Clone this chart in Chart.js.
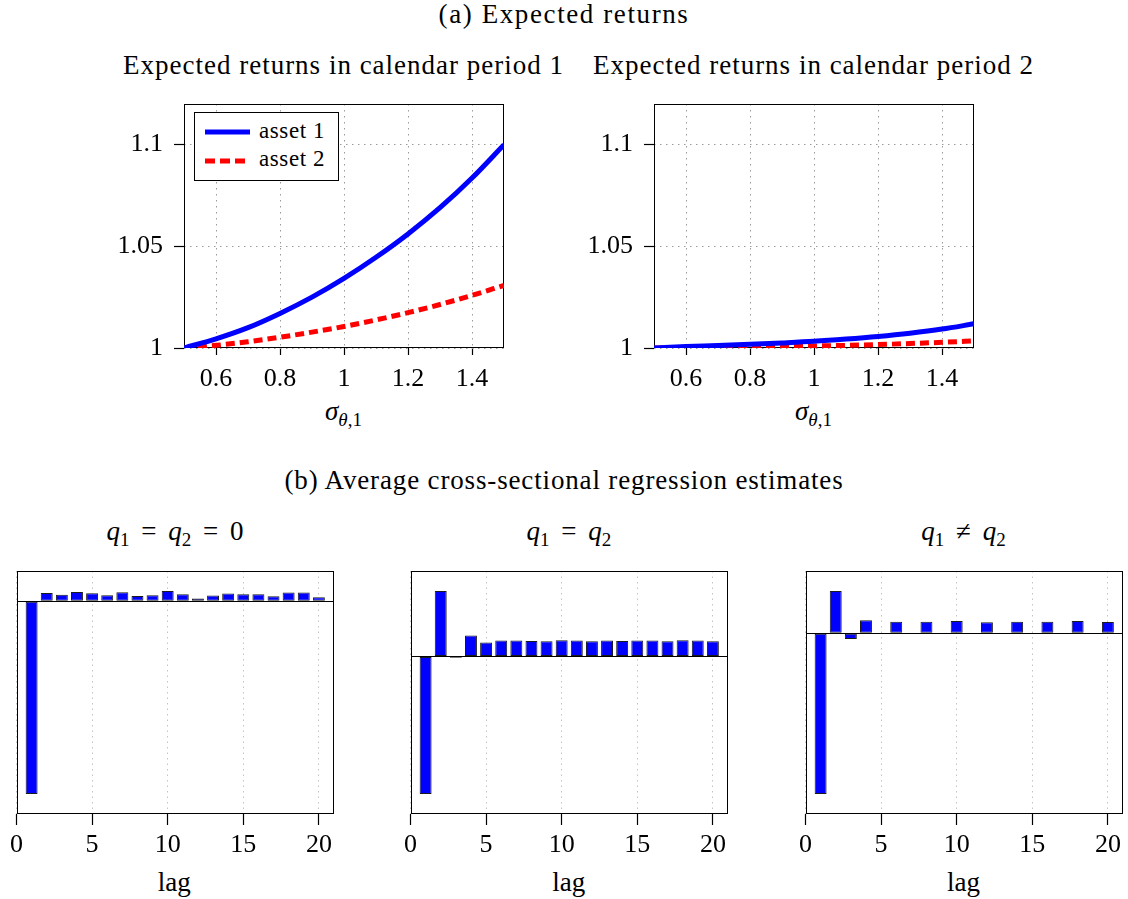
<!DOCTYPE html>
<html><head><meta charset="utf-8">
<script src="https://cdn.jsdelivr.net/npm/chart.js@4.4.0/dist/chart.umd.min.js"></script>
<style>
html,body{margin:0;padding:0;background:#fff;width:1128px;height:899px;overflow:hidden;position:relative;font-family:'Liberation Serif','Times New Roman',serif;color:#000}
canvas{position:absolute}
.t{position:absolute;font-size:27px;line-height:27px;white-space:nowrap;transform:translateX(-50%);letter-spacing:1px}
.q{letter-spacing:0;word-spacing:5px}
.lab{position:absolute;font-size:27px;line-height:27px;white-space:nowrap;transform:translateX(-50%)}
.sub{font-size:19px;position:relative;top:6px;letter-spacing:0}
.leg{position:absolute;left:194px;top:112px;width:145px;height:69px;box-sizing:border-box;border:1px solid #000;background:#fff}
.legt{position:absolute;font-size:23px;line-height:23px;white-space:nowrap;letter-spacing:0.6px}
</style></head><body>

<div class="t" style="left:564px;top:1px;letter-spacing:1.6px">(a) Expected returns</div>
<div class="t" style="left:343.5px;top:51.5px">Expected returns in calendar period 1</div>
<div class="t" style="left:813.5px;top:51.5px">Expected returns in calendar period 2</div>
<div class="t" style="left:564px;top:466.5px;letter-spacing:0.85px">(b) Average cross-sectional regression estimates</div>
<div class="t q" style="left:175px;top:517.5px"><i>q</i><span class="sub">1</span> = <i>q</i><span class="sub">2</span> = 0</div>
<div class="t q" style="left:568.8px;top:517.5px"><i>q</i><span class="sub">1</span> = <i>q</i><span class="sub">2</span></div>
<div class="t q" style="left:963.5px;top:517.5px"><i>q</i><span class="sub">1</span> ≠ <i>q</i><span class="sub">2</span></div>

<div class="lab" style="left:343.5px;top:397.5px"><i>σ</i><span class="sub"><i>θ</i>,1</span></div>
<div class="lab" style="left:813.5px;top:397.5px"><i>σ</i><span class="sub"><i>θ</i>,1</span></div>
<div class="lab" style="left:174.2px;top:868.5px">lag</div>
<div class="lab" style="left:568.8px;top:868.5px">lag</div>
<div class="lab" style="left:963.5px;top:868.5px">lag</div>

<script>
// ---- data ----
const sigma = [0.5, 0.6, 0.7, 0.8, 0.9, 1.0, 1.1, 1.2, 1.3, 1.4, 1.5];
const period1Asset1 = [1.0000, 1.0045, 1.0100, 1.0170, 1.0250, 1.0342, 1.0446, 1.0561, 1.0690, 1.0836, 1.1000];
const period1Asset2 = [1.0000, 1.0013, 1.0031, 1.0053, 1.0078, 1.0106, 1.0138, 1.0174, 1.0214, 1.0259, 1.0308];
const period2Asset1 = [1.0000, 1.0007, 1.0012, 1.0018, 1.0025, 1.0033, 1.0044, 1.0057, 1.0073, 1.0093, 1.0119];
const period2Asset2 = [1.0000, 1.0002, 1.0004, 1.0006, 1.0008, 1.0010, 1.0013, 1.0017, 1.0022, 1.0028, 1.0035];
const seriesNames = ['asset 1', 'asset 2'];
const sigmaTicks = [0.6, 0.8, 1, 1.2, 1.4];
const sigmaTickLabels = ['0.6', '0.8', '1', '1.2', '1.4'];
const returnTicks = [1, 1.05, 1.1];
const returnTickLabels = ['1', '1.05', '1.1'];

const lags = [1,2,3,4,5,6,7,8,9,10,11,12,13,14,15,16,17,18,19,20];
const estZero  = [-1, 0.043, 0.033, 0.048, 0.041, 0.031, 0.047, 0.027, 0.031, 0.053, 0.036, 0.014, 0.030, 0.040, 0.036, 0.036, 0.026, 0.045, 0.045, 0.021];
const estEqual = [-1, 0.476, -0.010, 0.152, 0.101, 0.116, 0.116, 0.113, 0.111, 0.118, 0.116, 0.111, 0.116, 0.113, 0.116, 0.116, 0.111, 0.118, 0.116, 0.111];
const estDiff  = [-1, 0.263, -0.035, 0.081, 0.004, 0.072, 0.004, 0.072, -0.004, 0.077, 0.003, 0.068, 0.003, 0.072, 0.003, 0.072, -0.004, 0.077, 0.003, 0.070];
const lagTicks = [0, 5, 10, 15, 20];
const lagTickLabels = ['0', '5', '10', '15', '20'];

// ---- helpers ----
const serif = "'Liberation Serif', 'Times New Roman', serif";
const tickFont = {family: serif, size: 26};

const framePlugin = {
  id: 'frame',
  beforeDatasetsDraw(chart) {
    const {ctx, chartArea: a} = chart;
    ctx.save();
    ctx.strokeStyle = '#000';
    ctx.lineWidth = 1;
    const l = Math.round(a.left) + 0.5, t = Math.round(a.top) + 0.5;
    const r = Math.round(a.right) - 0.5, b = Math.round(a.bottom) - 0.5;
    ctx.strokeRect(l, t, r - l, b - t);
    ctx.restore();
  }
};

function makeCanvas(left, top, w, h) {
  const c = document.createElement('canvas');
  c.width = w; c.height = h;
  c.style.left = left + 'px'; c.style.top = top + 'px';
  c.style.width = w + 'px'; c.style.height = h + 'px';
  document.body.appendChild(c);
  return c;
}

function lineChart(canvas, s1, s2) {
  return new Chart(canvas, {
    type: 'line',
    data: {
      datasets: [
        {label: seriesNames[0], data: sigma.map((x, i) => ({x, y: s1[i]})), borderColor: '#0000ff',
         borderWidth: 5, pointRadius: 0, cubicInterpolationMode: 'monotone', clip: 0, fill: false},
        {label: seriesNames[1], data: sigma.map((x, i) => ({x, y: s2[i]})), borderColor: '#ff0000',
         borderWidth: 5, borderDash: [9, 5], pointRadius: 0, cubicInterpolationMode: 'monotone', clip: 0, fill: false}
      ]
    },
    options: {
      responsive: false, animation: false, devicePixelRatio: 1, events: [],
      layout: {padding: {top: 40, right: 16, left: 0, bottom: 0}},
      plugins: {legend: {display: false}, tooltip: {enabled: false}},
      scales: {
        x: {
          type: 'linear', min: 0.5, max: 1.5,
          afterBuildTicks: s => { s.ticks = sigmaTicks.map(v => ({value: v})); },
          afterFit: s => { s.height = 50; },
          ticks: {font: tickFont, color: '#000', padding: 9, maxRotation: 0, autoSkip: false,
                  callback: (v, i) => sigmaTickLabels[i]},
          grid: {color: '#9a9a9a', lineWidth: 1, tickColor: '#000', tickLength: 7, tickWidth: 1.2, tickBorderDash: []},
          border: {display: false, dash: [1.5, 4.5]}
        },
        y: {
          type: 'linear', min: 1, max: 1.12,
          afterBuildTicks: s => { s.ticks = returnTicks.map(v => ({value: v})); },
          afterFit: s => { s.width = 100; },
          ticks: {font: tickFont, color: '#000', padding: 11, autoSkip: false,
                  callback: (v, i) => returnTickLabels[i]},
          grid: {color: '#9a9a9a', lineWidth: 1, tickColor: '#000', tickLength: 10, tickWidth: 1.2, tickBorderDash: []},
          border: {display: false, dash: [1.5, 4.5]}
        }
      }
    },
    plugins: [framePlugin]
  });
}

function barChart(canvas, vals) {
  const lo = Math.min(...vals), hi = Math.max(...vals);
  const pad = (hi - lo) * 0.0985;
  return new Chart(canvas, {
    type: 'bar',
    data: {
      datasets: [{
        data: lags.map((x, i) => ({x, y: vals[i]})),
        backgroundColor: '#0000ff', borderColor: '#1a1a1a', borderWidth: 1, borderSkipped: false,
        barPercentage: 0.79, categoryPercentage: 1
      }]
    },
    options: {
      responsive: false, animation: false, devicePixelRatio: 1, events: [],
      layout: {padding: {top: 20, right: 4, left: 0, bottom: 0}},
      plugins: {legend: {display: false}, tooltip: {enabled: false}},
      scales: {
        x: {
          type: 'linear', min: 0, max: 21, offset: false,
          afterBuildTicks: s => { s.ticks = lagTicks.map(v => ({value: v})); },
          afterFit: s => { s.height = 50; },
          ticks: {font: tickFont, color: '#000', padding: 5, maxRotation: 0, autoSkip: false,
                  callback: (v, i) => lagTickLabels[i]},
          grid: {offset: false, color: '#c4c4c4', lineWidth: 1, tickColor: '#000', tickLength: 11, tickWidth: 1.2, tickBorderDash: []},
          border: {display: false, dash: [1.5, 4]}
        },
        y: {
          type: 'linear', min: lo - pad, max: hi + pad,
          afterBuildTicks: s => { s.ticks = [{value: 0}]; },
          afterFit: s => { s.width = 10; },
          ticks: {display: false},
          grid: {color: '#000', lineWidth: 1, drawTicks: false},
          border: {display: false}
        }
      }
    },
    plugins: [framePlugin]
  });
}

lineChart(makeCanvas(84, 64, 436, 334), period1Asset1, period1Asset2);
lineChart(makeCanvas(554, 64, 436, 334), period2Asset1, period2Asset2);
barChart(makeCanvas(5, 551, 333, 313), estZero);
barChart(makeCanvas(399, 551, 333, 313), estEqual);
barChart(makeCanvas(794, 551, 333, 313), estDiff);
</script>

<div class="leg">
  <svg width="143" height="67" style="position:absolute;left:0;top:0">
    <line x1="10" y1="19" x2="55" y2="19" stroke="#0000ff" stroke-width="5"/>
    <line x1="10" y1="48" x2="55" y2="48" stroke="#ff0000" stroke-width="5" stroke-dasharray="10 5"/>
  </svg>
  <div class="legt" style="left:64px;top:5.5px">asset 1</div>
  <div class="legt" style="left:64px;top:33.5px">asset 2</div>
</div>
</body></html>
